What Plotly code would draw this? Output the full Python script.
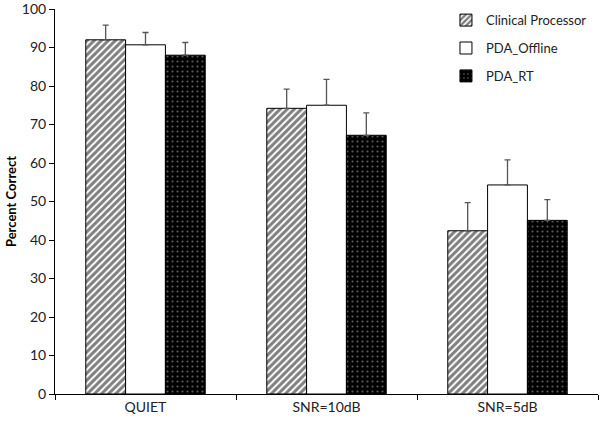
import plotly.graph_objects as go

categories = ["QUIET", "SNR=10dB", "SNR=5dB"]
series_names = ["Clinical Processor", "PDA_Offline", "PDA_RT"]
clinical = [92.0, 74.2, 42.4]
offline = [90.7, 75.0, 54.3]
rt = [88.0, 67.2, 45.1]
clinical_err = [3.8, 5.0, 7.3]
offline_err = [3.2, 6.7, 6.5]
rt_err = [3.3, 5.8, 5.4]
y_ticks = [0, 10, 20, 30, 40, 50, 60, 70, 80, 90, 100]

FONT = "Lato"

styles = [
    dict(color="white", pattern=dict(shape="/", fgcolor="black", bgcolor="white", size=5, solidity=0.6)),
    dict(color="white"),
    dict(color="black", pattern=dict(shape=".", fgcolor="#bbbbbb", bgcolor="black", size=5, solidity=0.15)),
]

fig = go.Figure()
for i, (name, vals, errs) in enumerate(zip(series_names, [clinical, offline, rt], [clinical_err, offline_err, rt_err])):
    fig.add_trace(go.Bar(
        x=categories, y=vals, name=name,
        legendgroup=name,
        marker=dict(line=dict(color="black", width=1), **styles[i]),
        error_y=dict(type="data", array=errs, arrayminus=[0] * len(errs), symmetric=False,
                     color="#555555", thickness=1.3, width=3),
    ))

fig.update_layout(
    width=600, height=422,
    margin=dict(l=55, r=2, t=9, b=28, autoexpand=False),
    paper_bgcolor="white", plot_bgcolor="white",
    barmode="group", bargap=0.34, bargroupgap=0,
    font=dict(family=FONT, size=14, color="#222222"),
    legend=dict(x=0.72, y=1.01, xanchor="left", yanchor="top", tracegroupgap=8,
                font=dict(family=FONT, size=13, color="#222222"), bgcolor="rgba(0,0,0,0)"),
    showlegend=True,
)
fig.update_xaxes(showline=True, linecolor="black", linewidth=1, ticks="outside", tickson="boundaries",
                 ticklen=5, tickcolor="black", showgrid=False, zeroline=False)
fig.update_yaxes(range=[0, 100], tickvals=y_ticks, showline=True, linecolor="black", linewidth=1,
                 ticks="outside", ticklen=5, tickcolor="black", showgrid=False, zeroline=False,
                 ticklabeloverflow="allow",
                 title=dict(text="<b>Percent Correct</b>", font=dict(family=FONT, size=13, color="black"), standoff=2))

fig.write_html("out.html", config={"displayModeBar": False},
               post_script="document.body.style.margin='0';document.body.style.padding='0';")
